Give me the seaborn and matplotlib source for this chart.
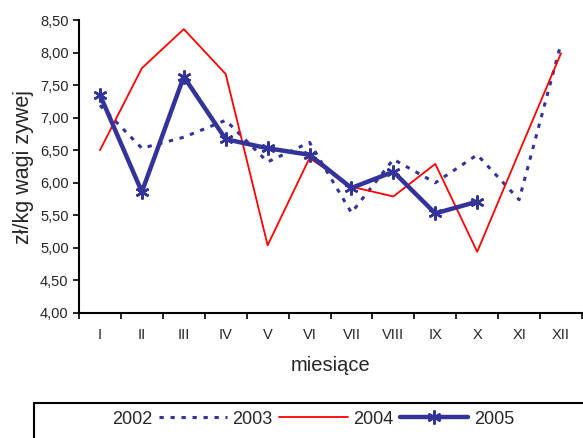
import numpy as np
import pandas as pd
import matplotlib
matplotlib.use("Agg")
import matplotlib.pyplot as plt
from matplotlib.lines import Line2D
from matplotlib.patches import Rectangle
import seaborn as sns

# data
months = ["I", "II", "III", "IV", "V", "VI", "VII", "VIII", "IX", "X", "XI", "XII"]
years = ["2002", "2003", "2004", "2005"]
v2003 = [7.19, 6.53, 6.70, 6.96, 6.32, 6.62, 5.54, 6.36, 6.00, 6.43, 5.74, 8.14]
v2004 = [6.50, 7.76, 8.36, 7.67, 5.04, 6.38, 5.94, 5.79, 6.29, 4.94, 6.47, 7.99]
v2005 = [7.35, 5.86, 7.63, 6.67, 6.53, 6.43, 5.92, 6.17, 5.53, 5.71]
yticks = np.arange(4.0, 8.51, 0.5)

navy = "#333399"
red = "#FF0000"

sns.set_style("ticks")
plt.rcParams['font.family'] = ['Liberation Sans', 'DejaVu Sans']

fig = plt.figure(figsize=(5.83, 4.38), dpi=100)
ax = fig.add_axes([79/583, 1 - 313/438, (582 - 79)/583, (313 - 20)/438])

pos = np.arange(len(months))
sns.lineplot(x=pos, y=v2003, ax=ax, color=navy, linewidth=2.2,
             linestyle=(0, (1.4, 2.2)), label="2003")
sns.lineplot(x=pos, y=v2004, ax=ax, color=red, linewidth=1.3, label="2004")
sns.lineplot(x=pos[:len(v2005)], y=v2005, ax=ax, color=navy, linewidth=3.2,
             marker=(6, 2, 0), markersize=10, markeredgewidth=1.8,
             markeredgecolor=navy, label="2005")
ax.get_legend().remove()

ax.set_xlim(-0.5, len(months) - 0.5)
ax.set_ylim(4.0, 8.5)
ax.set_yticks(yticks)
ax.set_yticklabels([f"{t:.2f}".replace(".", ",") for t in yticks], fontsize=10.5)
ax.set_xticks(np.arange(-0.5, len(months), 1.0))
ax.set_xticklabels([])
ax.set_xticks(pos, minor=True)
ax.set_xticklabels(months, minor=True, fontsize=10.5)
ax.tick_params(axis="x", which="minor", length=0, pad=11)
ax.tick_params(axis="both", which="major", length=4, width=1.2, color="black")
for s in ["left", "bottom"]:
    ax.spines[s].set_color("black")
    ax.spines[s].set_linewidth(1.5)
sns.despine(ax=ax)

ax.set_xlabel("miesiące", fontsize=14.5, labelpad=10)
ax.set_ylabel("zł/kg wagi zywej", fontsize=15.5, labelpad=4)

# legend box, cut by the figure edge like the original
fig.patches.append(Rectangle((34/583, -0.05), 0.99, 1 - 403/438 + 0.05,
                             transform=fig.transFigure, fill=False,
                             edgecolor="black", linewidth=1.5))
handles = [
    Line2D([], [], linestyle="none"),
    Line2D([], [], color=navy, linewidth=2.2, linestyle=(0, (1.4, 2.2))),
    Line2D([], [], color=red, linewidth=1.3),
    Line2D([], [], color=navy, linewidth=3.2, marker=(6, 2, 0), markersize=10,
           markeredgewidth=1.8),
]
fig.legend(handles, years, ncol=4, frameon=False, fontsize=13,
           loc="center left", bbox_to_anchor=(38/583, 1 - 419/438),
           handlelength=3.8, handletextpad=0.3, columnspacing=0.35,
           borderpad=0, borderaxespad=0)

fig.savefig("out.png", dpi=100)
